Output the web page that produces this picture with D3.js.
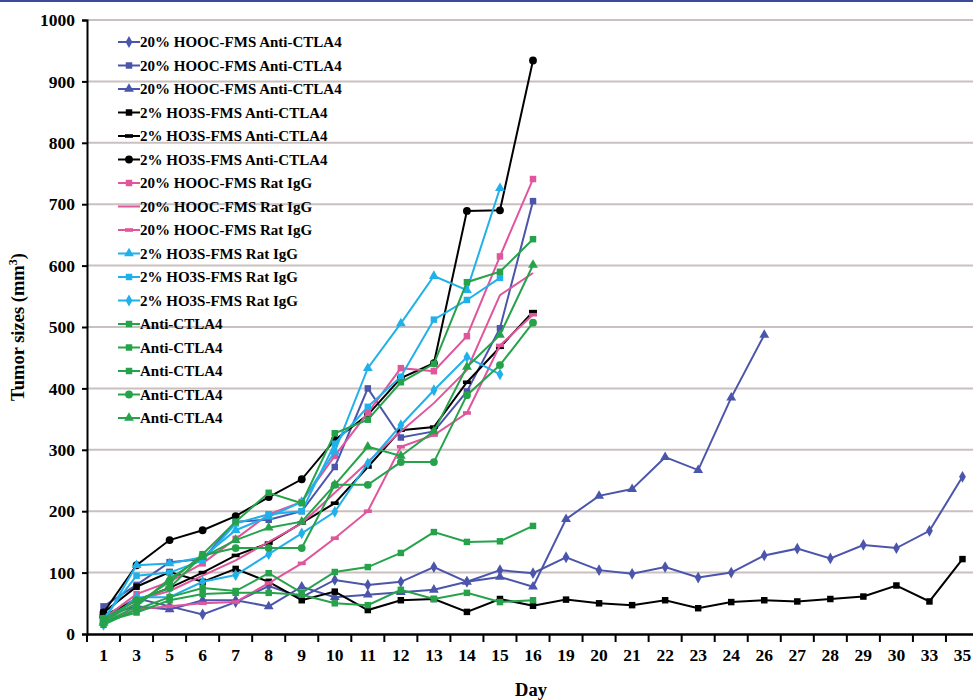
<!DOCTYPE html>
<html lang="en">
<head>
<script src="https://d3js.org/d3.v7.min.js"></script>
<style>
  body { margin: 0; background: #fff; }
  text { font-family: "Liberation Serif", "Times New Roman", serif; font-weight: bold; fill: #000; }
  .grid line { stroke: #cbc0c0; stroke-width: 2px; }
</style>
</head>
<body>
<svg id="chart" width="973" height="700"></svg>
<script>
const days = ["1","3","5","6","7","8","9","10","11","12","13","14","15","16","19","20","21","22","23","24","26","27","28","29","30","33","35"];
const yTicks = [0,100,200,300,400,500,600,700,800,900,1000];

// values start at day 1; a series stops where its list ends
const hoocAnti1 = [28,58,45,32,52,78,60,88,80,85,109,85,104,99,125,104,98,109,92,100,128,139,123,145,140,168,256];
const hoocAnti2 = [45,80,117,122,183,186,200,272,400,320,330,395,498,705];
const hoocAnti3 = [30,45,40,55,55,45,77,60,64,68,72,85,93,77,187,225,236,288,267,385,487];
const ho3sAnti1 = [35,77,101,85,106,85,55,69,39,55,57,36,57,46,56,50,47,55,42,52,55,53,57,61,79,53,122];
const ho3sAnti2 = [30,55,75,100,128,148,181,213,272,332,337,410,467,525];
const ho3sAnti3 = [35,112,153,169,192,223,252,316,357,417,441,689,690,934];
const hoocIgg1 = [25,65,85,115,155,195,215,290,360,433,428,485,615,741];
const hoocIgg2 = [22,55,70,95,120,150,180,230,280,330,376,430,552,588];
const hoocIgg3 = [20,40,45,50,52,83,115,156,200,305,324,360,470,520];
const ho3sIgg1 = [20,112,115,125,169,191,215,297,433,506,583,560,726];
const ho3sIgg2 = [25,95,100,120,180,195,200,310,370,419,512,544,580];
const ho3sIgg3 = [15,60,60,85,96,130,164,199,278,340,397,451,423];
const anti1 = [22,50,85,130,183,230,213,327,349,410,440,573,590,643];
const anti2 = [15,40,60,75,70,99,67,101,109,132,166,150,151,176];
const anti3 = [20,35,55,65,67,67,64,50,47,72,57,67,52,55];
const anti4 = [25,55,75,128,140,140,140,243,243,280,280,389,438,507];
const anti5 = [18,45,90,125,153,173,183,243,305,290,330,435,487,601];

const blue = "#4b55ab", black = "#000000", pink = "#e0559c", cyan = "#21b1ea", green = "#26a24b";
const series = [
  {name: "20% HOOC-FMS Anti-CTLA4", values: hoocAnti1, color: blue, marker: "diamond"},
  {name: "20% HOOC-FMS Anti-CTLA4", values: hoocAnti2, color: blue, marker: "square"},
  {name: "20% HOOC-FMS Anti-CTLA4", values: hoocAnti3, color: blue, marker: "triangle"},
  {name: "2% HO3S-FMS Anti-CTLA4", values: ho3sAnti1, color: black, marker: "square"},
  {name: "2% HO3S-FMS Anti-CTLA4", values: ho3sAnti2, color: black, marker: "dash"},
  {name: "2% HO3S-FMS Anti-CTLA4", values: ho3sAnti3, color: black, marker: "circle"},
  {name: "20% HOOC-FMS Rat IgG", values: hoocIgg1, color: pink, marker: "square"},
  {name: "20% HOOC-FMS Rat IgG", values: hoocIgg2, color: pink, marker: "none"},
  {name: "20% HOOC-FMS Rat IgG", values: hoocIgg3, color: pink, marker: "dash"},
  {name: "2% HO3S-FMS Rat IgG", values: ho3sIgg1, color: cyan, marker: "triangle"},
  {name: "2% HO3S-FMS Rat IgG", values: ho3sIgg2, color: cyan, marker: "square"},
  {name: "2% HO3S-FMS Rat IgG", values: ho3sIgg3, color: cyan, marker: "diamond"},
  {name: "Anti-CTLA4", values: anti1, color: green, marker: "square"},
  {name: "Anti-CTLA4", values: anti2, color: green, marker: "square"},
  {name: "Anti-CTLA4", values: anti3, color: green, marker: "square"},
  {name: "Anti-CTLA4", values: anti4, color: green, marker: "circle"},
  {name: "Anti-CTLA4", values: anti5, color: green, marker: "triangle"}
];

const svg = d3.select("#chart");
const plotLeft = 87, plotRight = 979, plotTop = 20, plotBottom = 634;

const x = d3.scaleBand().domain(days).range([plotLeft, plotRight]);
const y = d3.scaleLinear().domain([0, 1000]).range([plotBottom, plotTop]);

// blue rule at top of the page
svg.append("line").attr("x1", 0).attr("x2", 973).attr("y1", 1).attr("y2", 1)
   .attr("stroke", "#3a4a9c").attr("stroke-width", 2);

// gridlines
svg.append("g").attr("class", "grid")
   .selectAll("line").data(yTicks.filter(d => d > 0)).join("line")
   .attr("x1", plotLeft).attr("x2", plotRight)
   .attr("y1", d => y(d)).attr("y2", d => y(d));

// y axis
const yAxis = svg.append("g").attr("transform", `translate(${plotLeft},0)`)
   .call(d3.axisLeft(y).tickValues(yTicks).tickFormat(d3.format("d")).tickSize(5).tickPadding(7));
yAxis.select(".domain").attr("stroke-width", 2);
yAxis.selectAll("text").attr("font-size", 17.5);
yAxis.selectAll(".tick line").attr("stroke-width", 2);

// x axis, ticks at band edges
const xAxis = svg.append("g").attr("transform", `translate(0,${plotBottom})`)
   .call(d3.axisBottom(x).tickSize(0).tickPadding(15));
xAxis.select(".domain").attr("stroke-width", 2.5);
xAxis.selectAll("text").attr("font-size", 17.5);
svg.append("g").selectAll("line").data(days).join("line")
   .attr("x1", d => x(d)).attr("x2", d => x(d))
   .attr("y1", plotBottom).attr("y2", plotBottom + 8)
   .attr("stroke", "#000").attr("stroke-width", 2);

// axis titles
svg.append("text").attr("x", 531).attr("y", 696).attr("text-anchor", "middle")
   .attr("font-size", 18.5).text("Day");
const yt = svg.append("text").attr("transform", "translate(24,327) rotate(-90)")
   .attr("text-anchor", "middle").attr("font-size", 18.5);
yt.append("tspan").text("Tumor sizes (mm");
yt.append("tspan").attr("font-size", 12).attr("dy", -7).text("3");
yt.append("tspan").attr("dy", 7).text(")");

const symbolOf = {diamond: d3.symbolDiamond, square: d3.symbolSquare, triangle: d3.symbolTriangle, circle: d3.symbolCircle};
const sizeOf = {diamond: 40, square: 42, triangle: 42, circle: 48};

function drawMarker(g, m, color) {
  if (m === "none") return;
  if (m === "dash") {
    g.append("rect").attr("x", -4).attr("y", -1.8).attr("width", 8).attr("height", 3.6).attr("fill", color);
    return;
  }
  g.append("path").attr("d", d3.symbol().type(symbolOf[m]).size(sizeOf[m])()).attr("fill", color);
}

const line = d3.line().x((d, i) => x(days[i]) + x.bandwidth() / 2).y(d => y(d));
const plot = svg.append("g");
series.forEach(s => {
  plot.append("path").datum(s.values).attr("d", line)
      .attr("fill", "none").attr("stroke", s.color).attr("stroke-width", 2);
  s.values.forEach((v, i) => {
    const g = plot.append("g").attr("transform", `translate(${x(days[i]) + x.bandwidth() / 2},${y(v)})`);
    drawMarker(g, s.marker, s.color);
  });
});

// legend
const legend = svg.append("g").attr("transform", "translate(118,42)");
series.forEach((s, i) => {
  const row = legend.append("g").attr("transform", `translate(0,${i * 23.5})`);
  row.append("line").attr("x1", 0).attr("x2", 22).attr("stroke", s.color).attr("stroke-width", 2);
  drawMarker(row.append("g").attr("transform", "translate(11,0)"), s.marker, s.color);
  row.append("text").attr("x", 22).attr("y", 5).attr("font-size", 15).text(s.name);
});
</script>
</body>
</html>
